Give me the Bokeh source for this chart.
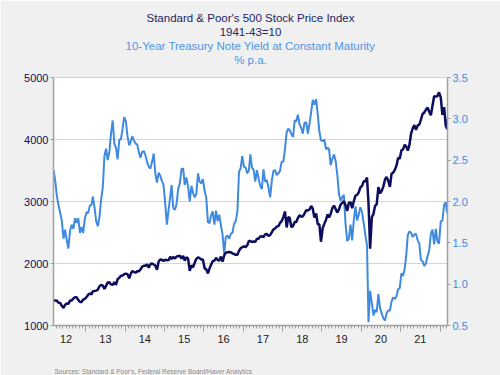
import pandas as pd
from bokeh.plotting import figure
from bokeh.models import (Range1d, LinearAxis, FixedTicker, Title, NumeralTickFormatter,
                          CustomLabelingPolicy)
from bokeh.embed import file_html
from bokeh.resources import INLINE

# Observation grid: 8th and 23rd of each month, Mar 2012 - Mar 2022
months = pd.period_range("2012-03", "2022-03", freq="M")
obs_dates = []
for m in months:
    obs_dates.append(pd.Timestamp(year=m.year, month=m.month, day=8))
    obs_dates.append(pd.Timestamp(year=m.year, month=m.month, day=23))

# S&P 500 (1941-43=10)
spx = [
    # 2012 (Mar-Dec)
    1400, 1405, 1398, 1367, 1364, 1318, 1285, 1335, 1355, 1350, 1402, 1403, 1437, 1456, 1455, 1413, 1378, 1380, 1418, 1430,
    # 2013
    1457, 1495, 1518, 1502, 1551, 1556, 1563, 1578, 1632, 1655, 1643, 1588, 1640, 1692, 1697, 1663, 1655, 1701, 1655, 1747, 1770, 1804, 1805, 1827,
    # 2014
    1837, 1828, 1760, 1836, 1878, 1866, 1851, 1875, 1875, 1900, 1949, 1962, 1963, 1987, 1931, 1988, 2001, 1983, 1968, 1900, 2031, 2064, 2060, 2040,
    # 2015
    2062, 2051, 2055, 2109, 2071, 2104, 2081, 2112, 2116, 2126, 2079, 2124, 2046, 2102, 2077, 1880, 1970, 1938, 2013, 2075, 2099, 2086, 2063, 2064,
    # 2016
    1922, 1906, 1840, 1921, 1980, 2036, 2047, 2091, 2057, 2048, 2112, 2030, 2130, 2175, 2180, 2186, 2181, 2164, 2153, 2141, 2140, 2204, 2246, 2263,
    # 2017
    2277, 2265, 2295, 2364, 2362, 2346, 2356, 2349, 2399, 2398, 2434, 2438, 2425, 2472, 2474, 2444, 2461, 2502, 2549, 2565, 2594, 2602, 2652, 2683,
    # 2018
    2748, 2839, 2581, 2747, 2738, 2588, 2604, 2670, 2671, 2733, 2779, 2754, 2760, 2806, 2857, 2856, 2871, 2929, 2884, 2740, 2806, 2633, 2633, 2351,
    # 2019
    2574, 2639, 2707, 2792, 2743, 2800, 2895, 2934, 2879, 2822, 2873, 2950, 2976, 3005, 2938, 2847, 2979, 2992, 2893, 3004, 3093, 3110, 3146, 3224,
    # 2020
    3253, 3325, 3327, 3386, 2972, 2237, 2750, 2797, 2930, 2955, 3232, 3131, 3170, 3236, 3351, 3397, 3332, 3237, 3446, 3465, 3510, 3578, 3702, 3690,
    # 2021
    3824, 3841, 3915, 3881, 3821, 3910, 4097, 4180, 4233, 4156, 4227, 4241, 4320, 4411, 4436, 4479, 4514, 4448, 4391, 4545, 4701, 4690, 4701, 4760,
    # 2022 (Jan-Mar)
    4677, 4398, 4521, 4225, 4170, 4456,
]

# 10-Year Treasury yield, % p.a.
yld = [
    # 2012 (Mar-Dec)
    2.38, 2.25, 2.06, 1.95, 1.86, 1.77, 1.55, 1.66, 1.53, 1.43, 1.65, 1.72, 1.67, 1.80, 1.74, 1.80, 1.62, 1.69, 1.62, 1.79,
    # 2013
    1.87, 1.86, 1.95, 1.96, 2.06, 1.93, 1.76, 1.70, 1.81, 2.02, 2.17, 2.55, 2.64, 2.50, 2.60, 2.82, 2.98, 2.70, 2.65, 2.51, 2.75, 2.75, 2.88, 3.02,
    # 2014
    2.97, 2.79, 2.68, 2.73, 2.79, 2.74, 2.70, 2.69, 2.60, 2.53, 2.60, 2.61, 2.56, 2.48, 2.42, 2.40, 2.48, 2.58, 2.34, 2.23, 2.35, 2.31, 2.25, 2.20,
    # 2015
    1.97, 1.72, 1.90, 2.06, 2.20, 1.92, 1.90, 1.97, 2.15, 2.22, 2.39, 2.40, 2.20, 2.29, 2.18, 2.00, 2.19, 2.10, 2.05, 2.09, 2.34, 2.24, 2.22, 2.27,
    # 2016
    2.13, 2.05, 1.75, 1.74, 1.83, 1.88, 1.72, 1.89, 1.76, 1.84, 1.71, 1.60, 1.37, 1.57, 1.59, 1.55, 1.61, 1.62, 1.73, 1.76, 1.88, 2.36, 2.40, 2.55,
    # 2017
    2.42, 2.41, 2.34, 2.38, 2.57, 2.41, 2.38, 2.24, 2.38, 2.28, 2.19, 2.15, 2.39, 2.24, 2.26, 2.17, 2.05, 2.25, 2.37, 2.38, 2.32, 2.34, 2.37, 2.48,
    # 2018
    2.48, 2.63, 2.84, 2.88, 2.86, 2.82, 2.78, 2.98, 2.97, 3.05, 2.93, 2.89, 2.82, 2.95, 2.96, 2.82, 2.94, 3.08, 3.23, 3.17, 3.24, 3.06, 2.85, 2.74,
    # 2019
    2.73, 2.75, 2.63, 2.65, 2.63, 2.44, 2.52, 2.57, 2.49, 2.33, 2.09, 2.01, 2.05, 2.08, 1.73, 1.52, 1.55, 1.72, 1.53, 1.77, 1.94, 1.77, 1.84, 1.93,
    # 2020
    1.87, 1.74, 1.59, 1.47, 0.54, 0.92, 0.77, 0.62, 0.69, 0.66, 0.88, 0.71, 0.65, 0.59, 0.56, 0.65, 0.68, 0.68, 0.79, 0.84, 0.82, 0.85, 0.94, 0.95,
    # 2021
    1.13, 1.10, 1.19, 1.37, 1.59, 1.64, 1.62, 1.57, 1.60, 1.61, 1.53, 1.49, 1.29, 1.28, 1.22, 1.25, 1.34, 1.41, 1.61, 1.66, 1.48, 1.67, 1.52, 1.49,
    # 2022 (Jan-Mar)
    1.76, 1.77, 1.96, 1.99, 1.86, 2.15,
]

year_labels = ["12", "13", "14", "15", "16", "17", "18", "19", "20", "21"]
left_ticks = [1000, 2000, 3000, 4000, 5000]
right_ticks = [0.5, 1.0, 1.5, 2.0, 2.5, 3.0, 3.5]

title_lines = ["Standard & Poor's 500 Stock Price Index", "1941-43=10",
               "10-Year Treasury Note Yield at Constant Maturity", "% p.a."]
source_text = "Sources:  Standard & Poor's, Federal Reserve Board/Haver Analytics"


def dec_year(ts):
    start = pd.Timestamp(year=ts.year, month=1, day=1)
    end = pd.Timestamp(year=ts.year + 1, month=1, day=1)
    return ts.year + (ts - start) / (end - start)


x = [dec_year(d) for d in obs_dates]

NAVY = "#0d0d5e"
TITLE_NAVY = "#1e1e66"
BLUE = "#3f8ae0"
TITLE_BLUE = "#4f95e3"
AXIS = "#a0a0a0"
FONT = "Liberation Sans"

p = figure(width=500, height=375, x_range=Range1d(2012.18, 2022.19), y_range=Range1d(1000, 5000),
           output_backend="svg", toolbar_location=None, x_axis_location=None, y_axis_location=None,
           title_location=None,
           min_border_left=53, min_border_right=53, min_border_top=77, min_border_bottom=50,
           background_fill_color="white", border_fill_color="#f0f0f0",
           outline_line_color="#d4d4d4")
p.extra_y_ranges = {"y2": Range1d(0.5, 3.5)}

hide_all = CustomLabelingPolicy(code="return []")


def spacer_axis(size):
    # an invisible axis used only to reserve vertical space in a border panel
    return LinearAxis(ticker=FixedTicker(ticks=[2017], minor_ticks=[]),
                      axis_line_color=None, major_tick_line_color=None, minor_tick_line_color=None,
                      major_tick_out=size, major_tick_in=0, minor_tick_out=0, minor_tick_in=0,
                      major_label_policy=hide_all, major_label_text_font_size="0px",
                      major_label_standoff=0)


# left axis
ya = LinearAxis(ticker=FixedTicker(ticks=left_ticks, minor_ticks=[]),
                axis_line_color=AXIS, axis_line_width=1.5,
                major_tick_line_color=AXIS, major_tick_out=3, major_tick_in=0,
                major_label_text_color=NAVY, major_label_text_font=FONT,
                major_label_text_font_size="11px", major_label_standoff=2)
p.add_layout(ya, "left")

# right axis
yb = LinearAxis(y_range_name="y2", ticker=FixedTicker(ticks=right_ticks, minor_ticks=[]),
                formatter=NumeralTickFormatter(format="0.0"),
                axis_line_color=AXIS, axis_line_width=1.5,
                major_tick_line_color=AXIS, major_tick_out=3, major_tick_in=0,
                major_label_text_color=BLUE, major_label_text_font=FONT,
                major_label_text_font_size="11px", major_label_standoff=2)
p.add_layout(yb, "right")

# x axis: year-boundary ticks + monthly minor ticks (no labels)
first_year = 2012
year_bounds = [first_year + i for i in range(1, 11)]
month_ticks = [first_year + k / 12 for k in range(2, 12 * 10 + 4)]
xa = LinearAxis(ticker=FixedTicker(ticks=year_bounds, minor_ticks=month_ticks),
                axis_line_color=AXIS, axis_line_width=1.5,
                major_tick_line_color=AXIS, major_tick_out=6, major_tick_in=0,
                minor_tick_line_color=AXIS, minor_tick_out=3, minor_tick_in=0,
                major_label_policy=hide_all,
                major_label_text_font_size="0px", major_label_standoff=0)
p.add_layout(xa, "below")

# x axis: labels centred in each year
mid_years = [first_year + i + 0.5 for i in range(len(year_labels))]
xb = LinearAxis(ticker=FixedTicker(ticks=mid_years, minor_ticks=[]),
                major_label_overrides={m: lab for m, lab in zip(mid_years, year_labels)},
                axis_line_color=None, major_tick_line_color=None, minor_tick_line_color=None,
                major_tick_out=0, major_tick_in=0,
                major_label_text_color="#222222", major_label_text_font=FONT,
                major_label_text_font_size="11px", major_label_standoff=3)
p.add_layout(xb, "below")

p.ygrid.ticker = FixedTicker(ticks=left_ticks)
p.ygrid.grid_line_color = "#d4d4d4"
p.ygrid.grid_line_width = 1
p.xgrid.visible = False

p.line(x, yld, y_range_name="y2", line_color=BLUE, line_width=2)
p.line(x, spx, line_color=NAVY, line_width=2.5)

# titles: spacer next to the plot, then lines added nearest-to-plot first
p.add_layout(spacer_axis(12), "above")
title_colors = [TITLE_NAVY, TITLE_NAVY, TITLE_BLUE, TITLE_BLUE]
for txt, col in reversed(list(zip(title_lines, title_colors))):
    p.add_layout(Title(text=txt, align="center", text_color=col, text_font=FONT,
                       text_font_size="11.5px", text_font_style="normal", standoff=0), "above")

# source note at the foot
p.add_layout(spacer_axis(20), "below")
p.add_layout(Title(text=source_text, align="left", text_color="#8a8a8a", text_font=FONT,
                   text_font_size="6.5px", text_font_style="normal", standoff=0, offset=1), "below")

open("out.html", "w").write(file_html(p, INLINE))
